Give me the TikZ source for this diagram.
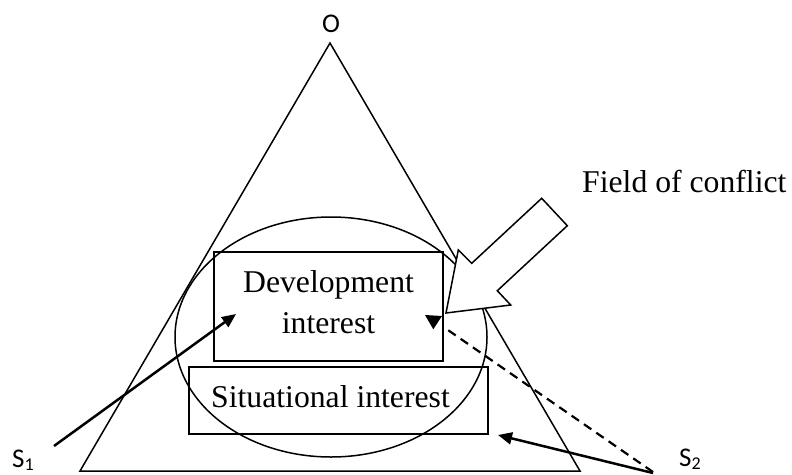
\documentclass[tikz,border=0pt]{standalone}
\usepackage{fontspec}
\setmainfont{Liberation Serif}
\newfontfamily\calfont{Carlito}
\usetikzlibrary{arrows.meta,shapes.geometric}
\begin{document}
\begin{tikzpicture}[x=1pt,y=-1pt,
  thinline/.style={line width=1.5pt},
  box/.style={draw, line width=1.5pt, rectangle, inner sep=0pt},
  serif/.style={font=\fontsize{31.7}{41}\selectfont, inner sep=0pt},
  lbl/.style={font=\calfont\fontsize{27}{32}\selectfont, inner sep=0pt},
  pointer/.style={line width=2.5pt, -{Triangle[length=14pt,width=12pt]}},
  dashline/.style={line width=2.2pt, dash pattern=on 9pt off 6pt},
]
\useasboundingbox (0,0) rectangle (792,474);
% triangle
\coordinate (apex) at (330,43);
\coordinate (bl) at (80,471);
\coordinate (br) at (580,471);
\draw[thinline, line join=miter] (apex) -- (bl) -- (br) -- cycle;
% ellipse
\node[draw, ellipse, thinline, minimum width=312pt, minimum height=240pt, inner sep=0pt] (ell) at (331,337) {};
% boxes
\node[box, minimum width=229pt, minimum height=109pt] (dev) at (328.5,306.5) {};
\node[serif, align=center, anchor=base] (devtext) at (328.5,333) {Development\\interest};
\node[box, minimum width=299pt, minimum height=67pt] (sit) at (338.5,400.5) {};
\node[serif, anchor=base] (sittext) at (330.5,407) {Situational interest};
% labels
\node[lbl] (o) at (331,23.5) {O};
\node[lbl, anchor=base west] (s1) at (12,467) {S\raisebox{-3.5pt}{\fontsize{18}{18}\selectfont 1}};
\node[lbl, anchor=base west] (s2) at (679,466) {S\raisebox{-3.5pt}{\fontsize{18}{18}\selectfont 2}};
\node[serif, anchor=base west] (field) at (582,192) {Field of conflict};
% arrows
\coordinate (s1tail) at (54,446);
\coordinate (s1tip) at (236,314);
\draw[pointer] (s1tail) -- (s1tip);
\coordinate (s2tail) at (653,473);
\coordinate (s2tip) at (498,435);
\draw[pointer] (s2tail) -- (s2tip);
\coordinate (dtail) at (653,472);
\coordinate (dend) at (445,328);
\draw[dashline] (dtail) -- (dend);
\fill (425,315) -- (442,316) -- (433.3,329.3) -- cycle;
% hollow block arrow
\draw[thinline, fill=white, line join=miter]
  (446,313) -- (458.3,250) -- (471.7,263.3) -- (541.7,198.3)
  -- (567.3,225.7) -- (497.3,290.7) -- (510.7,305) -- cycle;
\end{tikzpicture}
\end{document}
